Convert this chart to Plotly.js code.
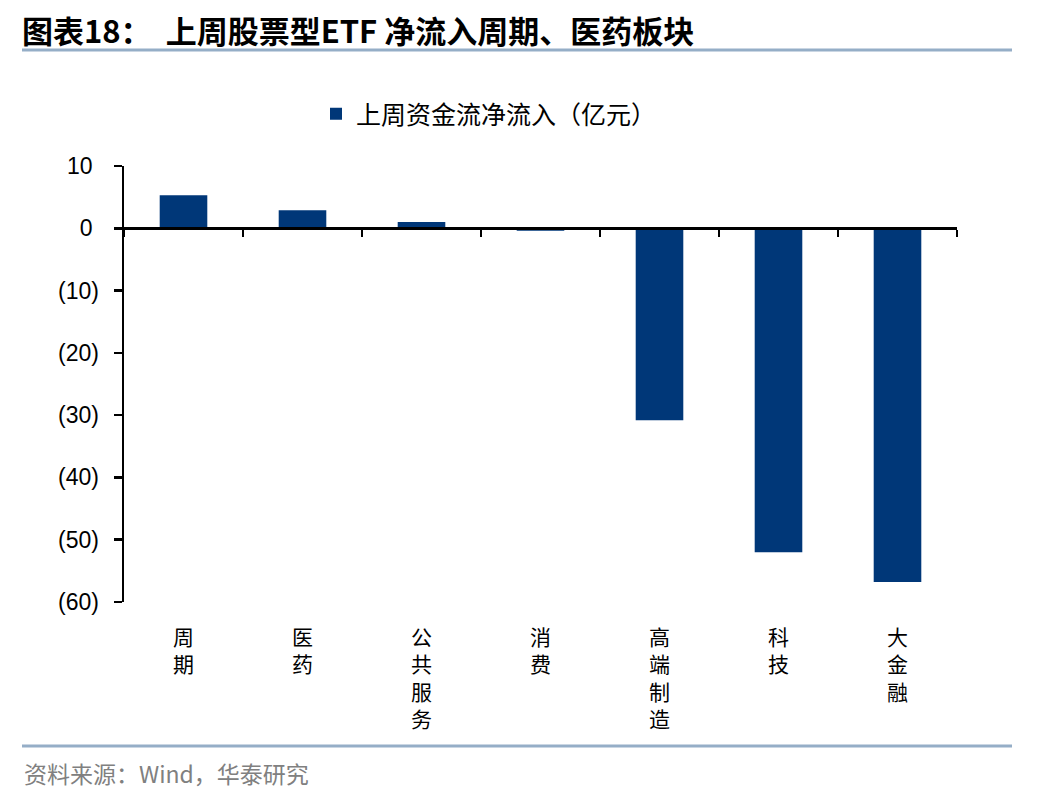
<!DOCTYPE html>
<html><head><meta charset="utf-8">
<script src="https://cdn.plot.ly/plotly-3.0.1.min.js"></script>
<style>html,body{margin:0;padding:0;background:#fff}#chart{width:1048px;height:800px}</style>
</head><body><div id="chart"></div>
<script>
var categories = ["周期","医药","公共服务","消费","高端制造","科技","大金融"];
var flows = [5.3, 2.9, 1.0, -0.4, -30.8, -52.0, -56.8];
var seriesName = "上周资金流净流入（亿元）";
var yTickVals = [10, 0, -10, -20, -30, -40, -50, -60];
var yTickText = ["10\u2008", "0\u2008", "(10)", "(20)", "(30)", "(40)", "(50)", "(60)"];

var L = 124, R = 957, T = 166, B = 602, W = 1048, H = 800;
function px(x){ return (x - L) / (R - L); }
function py(y){ return (B - y) / (B - T); }

var traces = [
  {type:"bar", x:categories, y:flows, name:seriesName, width:0.4,
   marker:{color:"#003778"}, xaxis:"x2", yaxis:"y", hoverinfo:"x+y"},
  {type:"bar", x:categories, y:categories.map(function(){return null;}), xaxis:"x", yaxis:"y",
   showlegend:false, hoverinfo:"skip"}
];

var labelAnns = categories.map(function(c){
  return {xref:"x", yref:"paper", x:c, y:py(619), yanchor:"top", xanchor:"center",
          showarrow:false, text:c.split("").join("<br>"),
          font:{family:"Noto Sans CJK SC", size:21, color:"#000"}};
});

var layout = {
  width:W, height:H, paper_bgcolor:"#fff", plot_bgcolor:"#fff",
  margin:{l:L, r:W-R, t:T, b:H-B, pad:0},
  title:{text:"<b>图表18：  上周股票型ETF 净流入周期、医药板块</b>", xref:"container", yref:"container",
         x:22/W, xanchor:"left", y:1-32/H, yanchor:"middle",
         font:{family:"Noto Sans CJK SC", size:31, color:"#000"}},
  showlegend:true,
  legend:{orientation:"h", x:px(316), xanchor:"left", y:py(114), yanchor:"middle",
          font:{family:"Noto Sans CJK SC", size:25, color:"#000"}, bgcolor:"rgba(0,0,0,0)"},
  xaxis:{type:"category", categoryarray:categories, showline:false, ticks:"", showticklabels:false,
         showgrid:false, zeroline:false, range:[-0.5, 6.5], fixedrange:true},
  xaxis2:{type:"category", categoryarray:categories, matches:"x", overlaying:"x", anchor:"free",
          position:60/70, showline:true, linecolor:"#000", linewidth:2.5, ticks:"outside",
          tickson:"boundaries", ticklen:7, tickwidth:2.5, tickcolor:"#000", showticklabels:false,
          showgrid:false, zeroline:false},
  yaxis:{range:[-60, 10], tickvals:yTickVals, ticktext:yTickText, ticks:"outside", ticklen:8,
         tickwidth:2.5, tickcolor:"#000", showline:true, linecolor:"#000", linewidth:2.5,
         showgrid:false, zeroline:false, ticklabelstandoff:10,
         tickfont:{family:"Liberation Sans, Arial", size:23, color:"#000"}},
  shapes:[
    {type:"line", xref:"paper", yref:"paper", x0:px(22), x1:px(1012), y0:py(50), y1:py(50),
     line:{color:"#95AEC7", width:3}},
    {type:"line", xref:"paper", yref:"paper", x0:px(22), x1:px(1012), y0:py(746), y1:py(746),
     line:{color:"#95AEC7", width:3}}
  ],
  annotations: labelAnns.concat([
    {xref:"paper", yref:"paper", x:px(22), y:py(773), xanchor:"left", yanchor:"middle",
     showarrow:false, text:"资料来源：Wind，华泰研究",
     font:{family:"Noto Sans CJK SC", size:23, color:"#808080"}}
  ])
};
Plotly.newPlot("chart", traces, layout, {displayModeBar:false, staticPlot:true});
</script></body></html>
